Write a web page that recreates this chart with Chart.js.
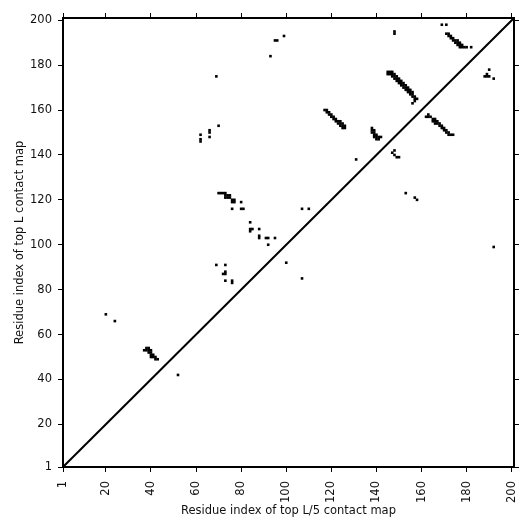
<!DOCTYPE html>
<html>
<head>
<meta charset="utf-8">
<script src="https://cdn.jsdelivr.net/npm/chart.js@4.4.1/dist/chart.umd.min.js"></script>
<style>
  html, body { margin: 0; padding: 0; background: #fff; }
  #wrap { width: 532px; height: 532px; }
</style>
</head>
<body>
<div id="wrap"><canvas id="mapChart" width="532" height="532"></canvas></div>
<script>
// axis ticks (residue index)
const tickValues = [1, 20, 40, 60, 80, 100, 120, 140, 160, 180, 200];
const axisMin = 1;
const axisMax = 201;

// contacts as [residue on x, residue on y]
const isolated = [
  [20, 69], [24, 66], [52, 42],
  [62, 149], [62, 147], [62, 146], [66, 151], [66, 150], [66, 148], [70, 153], [69, 175],
  [93, 184], [95, 191], [96, 191], [99, 193],
  [148, 195], [148, 194], [169, 198], [171, 198],
  [190, 178], [188, 175], [189, 175], [190, 175], [189, 176], [192, 174],
  [131, 138], [153, 123], [157, 121], [158, 120],
  [107, 116], [110, 116], [192, 99],
  [100, 92], [107, 85], [92, 100],
  [69, 91], [73, 91], [72, 87], [73, 87], [73, 88], [73, 84], [76, 84], [76, 83],
  [84, 110], [84, 107], [84, 106], [85, 107], [88, 107], [88, 104], [88, 103],
  [91, 103], [92, 103], [95, 103],
  [80, 119], [76, 116], [80, 116], [81, 116],
  [147, 141], [148, 142], [148, 140], [149, 139], [150, 139]
];

const clusterA = [
  [70, 123], [71, 123], [72, 123], [73, 123], [73, 122], [74, 122], [75, 122],
  [73, 121], [74, 121], [75, 121], [76, 120], [76, 119], [77, 119], [77, 120]
];

const clusterB = [
  [37, 53], [38, 53], [39, 53], [40, 53], [38, 54], [39, 54], [39, 52], [40, 52],
  [40, 51], [41, 51], [40, 50], [41, 50], [42, 49], [43, 49], [42, 50]
];

const bandC = [
  [117, 160], [118, 160], [118, 159], [119, 159], [119, 158], [120, 158], [120, 157],
  [121, 157], [121, 156], [122, 156], [122, 155], [123, 155], [123, 154], [124, 154],
  [124, 153], [125, 153], [125, 152], [126, 152], [126, 153], [124, 155], [125, 154]
];

const bandD = [
  [138, 152], [138, 151], [138, 150], [139, 151], [139, 150], [139, 149], [140, 149],
  [139, 148], [140, 148], [141, 148], [140, 147], [141, 147], [142, 148]
];

const bandE = [
  [145, 177], [146, 177], [145, 176], [146, 176], [147, 176], [147, 175], [148, 175],
  [148, 174], [149, 174], [149, 173], [150, 173], [150, 172], [151, 172], [151, 171],
  [152, 171], [152, 170], [153, 170], [153, 169], [154, 169], [154, 168], [155, 168],
  [155, 167], [156, 167], [156, 166], [157, 166], [157, 165], [157, 164], [156, 163],
  [147, 177], [148, 176], [149, 175], [150, 174], [151, 173], [152, 172], [153, 171],
  [154, 170], [155, 169], [156, 168], [158, 165]
];

const bandF = [
  [171, 194], [172, 194], [172, 193], [173, 193], [173, 192], [174, 192], [174, 191],
  [175, 191], [175, 190], [176, 190], [176, 189], [177, 189], [176, 191], [177, 190],
  [177, 188], [178, 188], [178, 189], [179, 188], [180, 188], [182, 188]
];

const bandG = [
  [163, 158], [162, 157], [163, 157], [164, 157], [165, 156], [166, 156], [165, 155],
  [166, 155], [167, 155], [166, 154], [167, 154], [168, 154], [168, 153], [169, 153],
  [169, 152], [170, 152], [170, 151], [171, 151], [171, 150], [172, 150], [172, 149],
  [173, 149], [174, 149]
];

const diagonal = [[axisMin, axisMin], [axisMax, axisMax]];

const contacts = [...isolated, ...clusterA, ...clusterB, ...bandC, ...bandD, ...bandE, ...bandF, ...bandG]
  .map(([x, y]) => ({ x, y }));

const font = { family: 'DejaVu Sans', size: 11.5 };
const fixTicks = (scale) => { scale.ticks = tickValues.map(v => ({ value: v })); };

const baseScale = (pos, labels) => ({
  type: 'linear',
  position: pos,
  min: axisMin,
  max: axisMax,
  afterBuildTicks: fixTicks,
  border: { display: true, color: '#000', width: 2 },
  grid: { drawOnChartArea: false, drawTicks: true, tickLength: 5, color: '#000', lineWidth: 1 },
  ticks: { display: labels, color: '#111', font, padding: 6 }
});

const xScale = baseScale('bottom', true);
xScale.ticks.minRotation = 90;
xScale.ticks.maxRotation = 90;
xScale.ticks.padding = 9;
xScale.title = { display: true, text: 'Residue index of top L/5 contact map', color: '#111', font, padding: { top: 2, bottom: 14 } };
// fixed box so the plot area sits where the original has it
xScale.afterFit = (s) => { s.height = 65; s.paddingLeft = 0; s.paddingRight = 0; };

const yScale = baseScale('left', true);
yScale.title = { display: true, text: 'Residue index of top L contact map', color: '#111', font, padding: { top: 13, bottom: 2 } };
yScale.afterFit = (s) => { s.width = 63; s.paddingTop = 0; s.paddingBottom = 0; };

const x2Scale = baseScale('top', false);
x2Scale.afterFit = (s) => { s.height = 18; s.paddingLeft = 0; s.paddingRight = 0; };
const y2Scale = baseScale('right', false);
y2Scale.afterFit = (s) => { s.width = 18; s.paddingTop = 0; s.paddingBottom = 0; };

new Chart(document.getElementById('mapChart').getContext('2d'), {
  type: 'scatter',
  data: {
    datasets: [
      {
        label: 'contacts',
        data: contacts,
        pointStyle: 'rect',
        pointRadius: 1.85,
        pointHoverRadius: 1.85,
        backgroundColor: '#000',
        borderWidth: 0
      },
      {
        type: 'line',
        label: 'diagonal',
        data: diagonal.map(([x, y]) => ({ x, y })),
        borderColor: '#000',
        borderWidth: 2,
        pointRadius: 0,
        fill: false
      }
    ]
  },
  options: {
    responsive: false,
    animation: false,
    layout: { padding: 0 },
    plugins: { legend: { display: false }, tooltip: { enabled: false } },
    scales: { x: xScale, y: yScale, x2: x2Scale, y2: y2Scale }
  }
});
</script>
</body>
</html>
